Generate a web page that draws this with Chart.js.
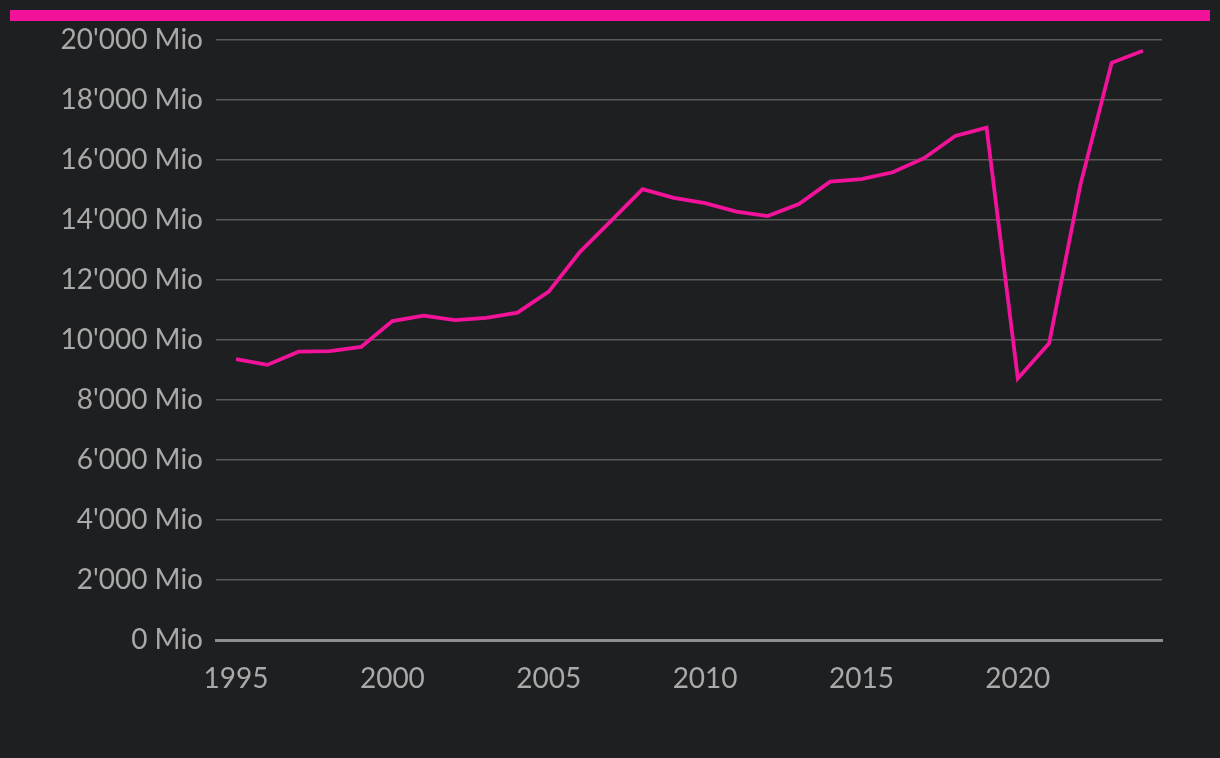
<!DOCTYPE html>
<html>
<head>
<meta charset="utf-8">
<script src="https://cdn.jsdelivr.net/npm/chart.js@4.4.1/dist/chart.umd.min.js"></script>
<style>
  html, body { margin: 0; padding: 0; background: #1e1f21; }
  #wrap { position: relative; width: 1220px; height: 758px; }
  #topBar { position: absolute; left: 10px; top: 10px; width: 1200px; height: 11px; background: #f2139a; }
  #myChart { position: absolute; left: 0; top: 0; }
</style>
</head>
<body>
<div id="wrap">
  <div id="topBar"></div>
  <canvas id="myChart" width="1220" height="758"></canvas>
</div>
<script>
const years = [
  1995, 1996, 1997, 1998, 1999, 2000, 2001, 2002, 2003, 2004,
  2005, 2006, 2007, 2008, 2009, 2010, 2011, 2012, 2013, 2014,
  2015, 2016, 2017, 2018, 2019, 2020, 2021, 2022, 2023, 2024,
];
const values = [
  9360, 9170, 9610, 9630, 9770, 10630, 10810, 10660, 10740, 10910,
  11610, 12940, 13980, 15030, 14740, 14560, 14280, 14130, 14530, 15280,
  15360, 15590, 16060, 16800, 17080, 8720, 9890, 15170, 19240, 19640,
];
const yearTicks = [1995, 2000, 2005, 2010, 2015, 2020];

const textColor = "#a9a9a9";
const fontSpec = { family: "Lato, 'Noto Sans', sans-serif", size: 28 };

function formatMio(value) {
  return String(value).replace(/\B(?=(\d{3})+(?!\d))/g, "'") + " Mio";
}

const ctx = document.getElementById("myChart");

new Chart(ctx, {
  type: "line",
  data: {
    datasets: [
      {
        data: years.map((year, i) => ({ x: year, y: values[i] })),
        borderColor: "#f2139a",
        borderWidth: 3.8,
        pointRadius: 0,
        tension: 0,
      },
    ],
  },
  options: {
    responsive: false,
    animation: false,
    layout: { padding: { top: 40, right: 58, left: 0, bottom: 0 } },
    plugins: { legend: { display: false }, tooltip: { enabled: false } },
    scales: {
      x: {
        type: "linear",
        min: 1994.36,
        max: 2024.61,
        afterBuildTicks: (scale) => {
          scale.ticks = yearTicks.map((v) => ({ value: v }));
        },
        afterFit: (scale) => {
          scale.height = 118;
        },
        grid: { display: false, drawTicks: false },
        border: { display: true, color: "#8e8e8e", width: 3 },
        ticks: {
          color: textColor,
          font: fontSpec,
          padding: 22,
          maxRotation: 0,
          autoSkip: false,
          callback: (value) => String(value),
        },
      },
      y: {
        min: 0,
        max: 20000,
        afterFit: (scale) => {
          scale.width = 216;
        },
        grid: { color: "#5a5a5a", lineWidth: 1.5, drawTicks: false },
        border: { display: false },
        ticks: {
          stepSize: 2000,
          color: textColor,
          font: fontSpec,
          padding: 13,
          callback: (value) => formatMio(value),
        },
      },
    },
  },
});
</script>
</body>
</html>
